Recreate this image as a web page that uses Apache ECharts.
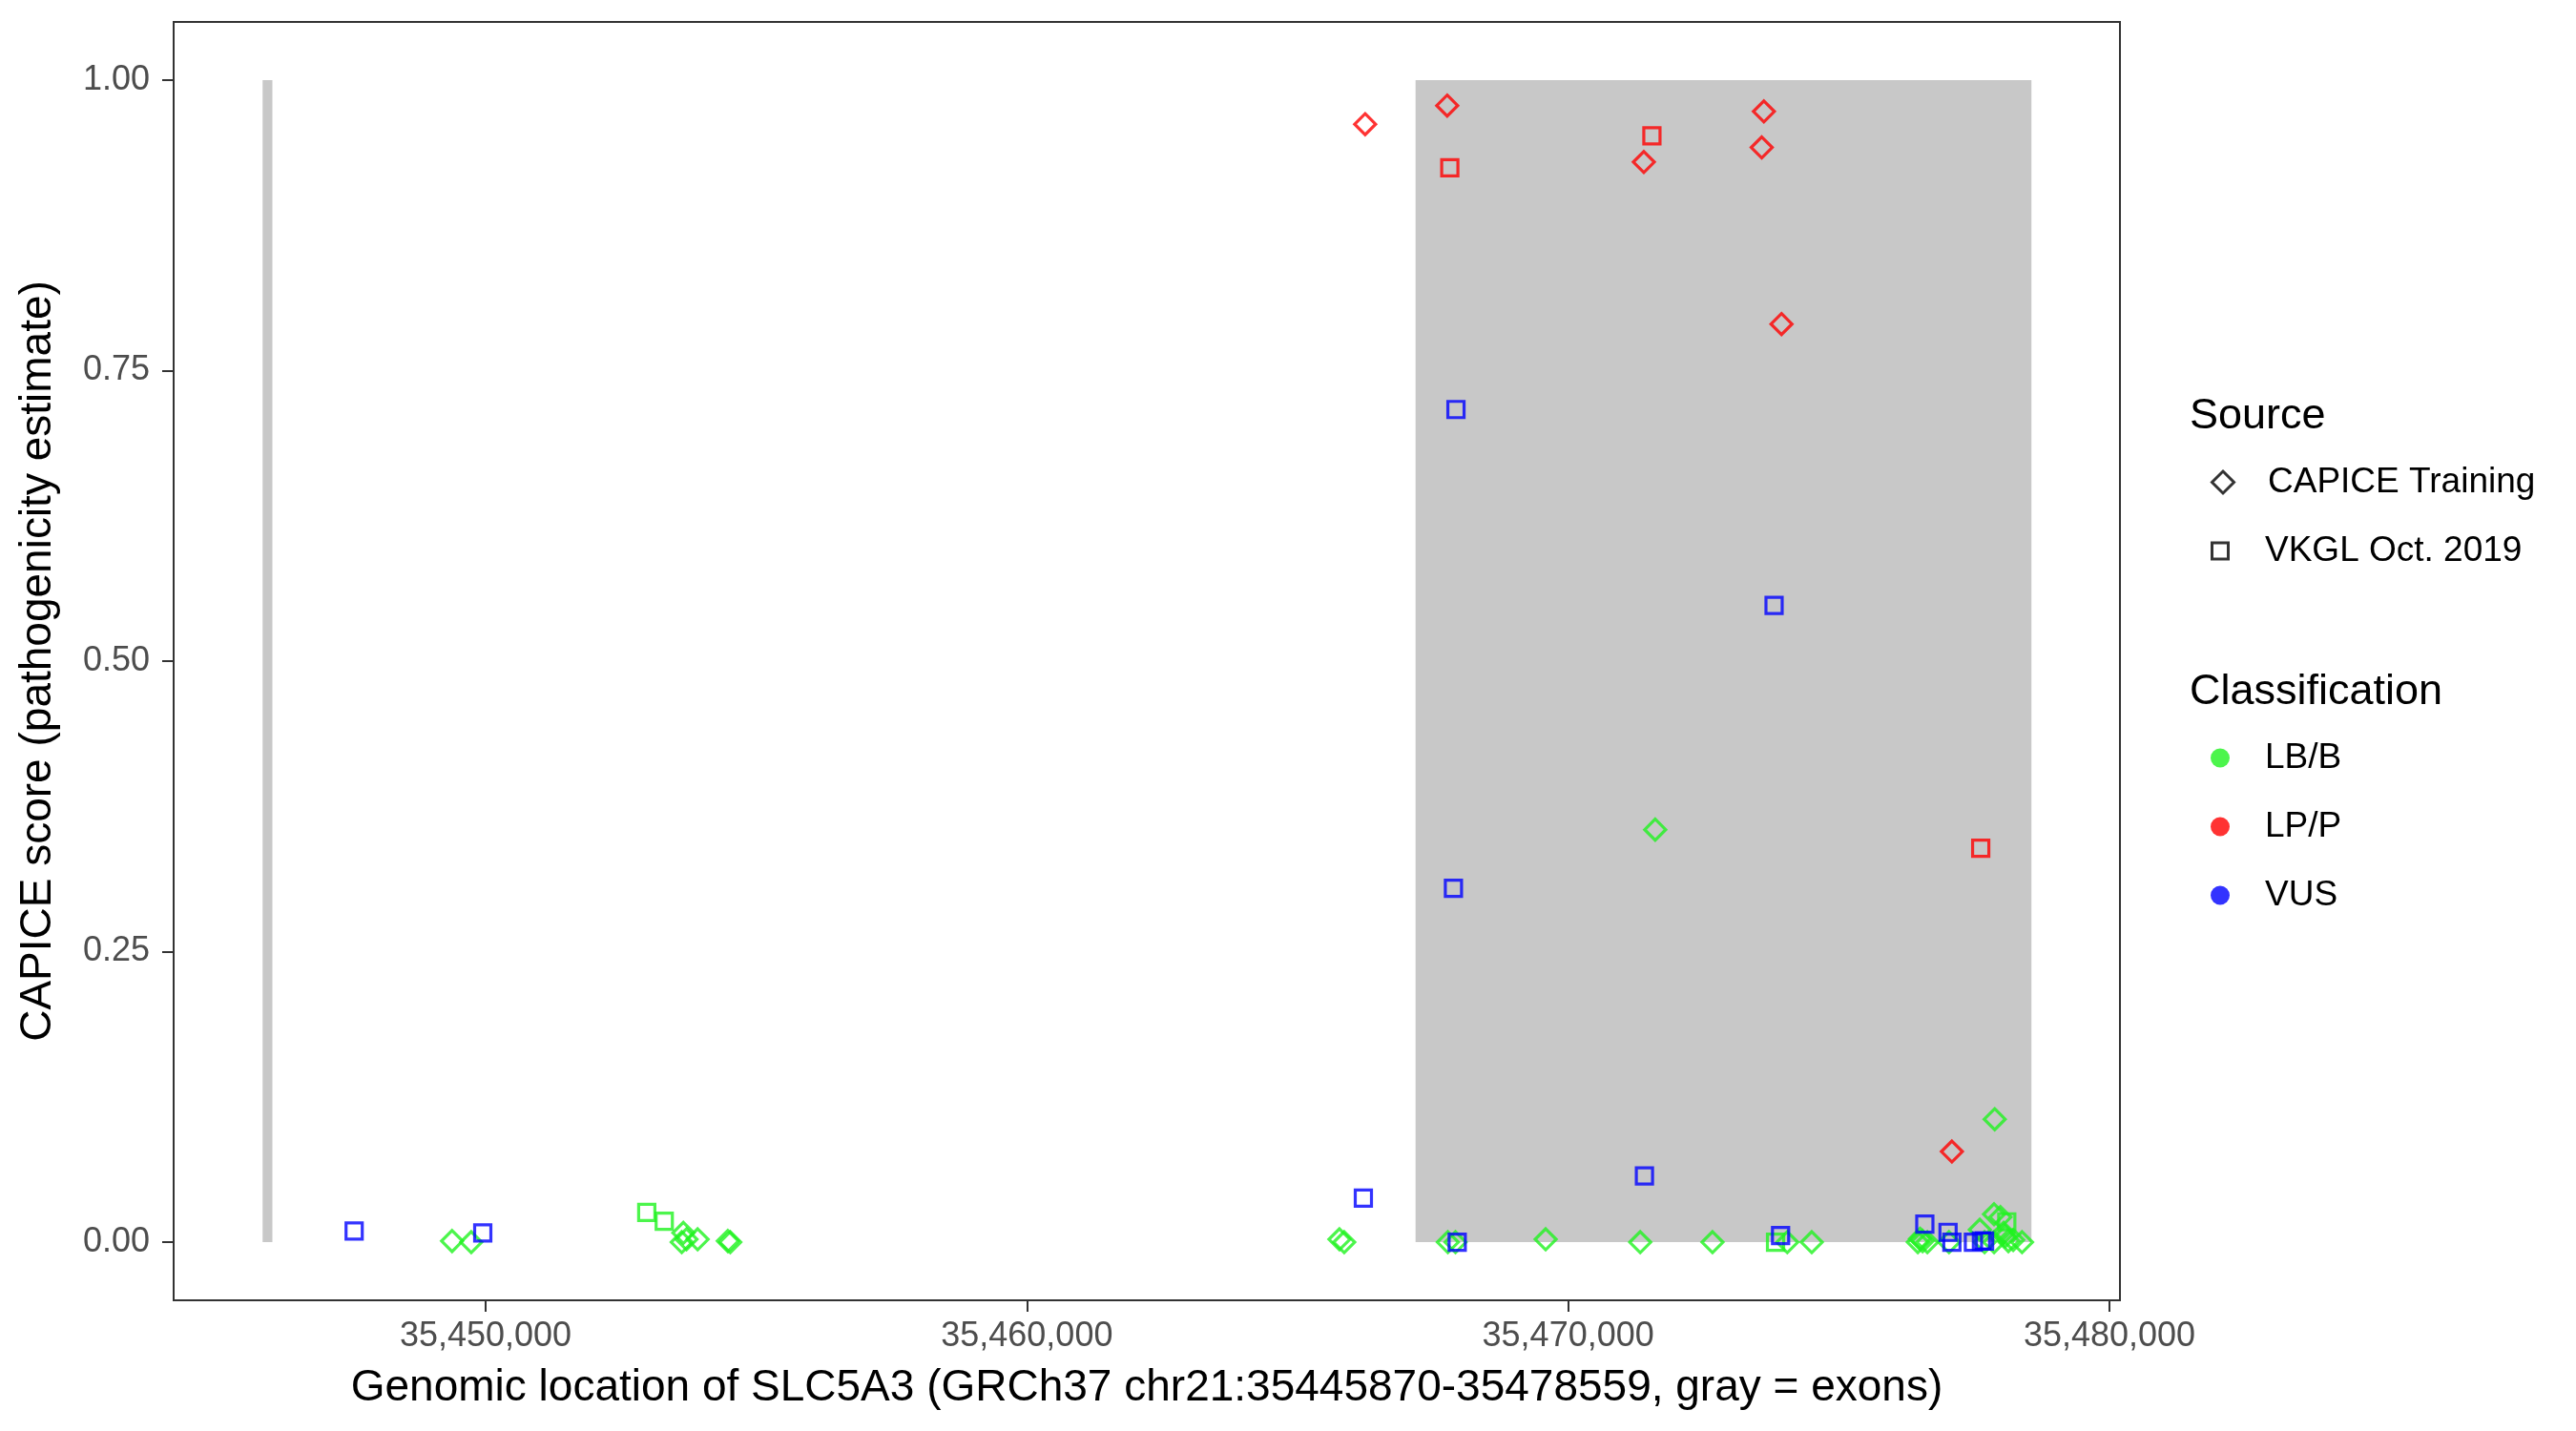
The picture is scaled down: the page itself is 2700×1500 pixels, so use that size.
<!DOCTYPE html>
<html>
<head>
<meta charset="utf-8">
<script src="https://cdn.jsdelivr.net/npm/echarts@6/dist/echarts.min.js"></script>
<style>
html,body{margin:0;padding:0;background:#fff;}
#chart{width:2700px;height:1500px;}
</style>
</head>
<body>
<div id="chart"></div>
<script>
// ---- data ----
const exonStart = [35445880, 35467180];
const exonEnd   = [35446060, 35478559];

const xTicks = [35450000, 35460000, 35470000, 35480000];
const yTicks = [0, 0.25, 0.5, 0.75, 1];

// CAPICE Training (diamonds)
const capiceBenign = [
  [35449380, 0.001], [35449734, 0.000], [35453653, 0.008], [35453711, 0.0025],
  [35453623, 0.000], [35453917, 0.0025], [35454475, 0.001], [35454520, 0.000],
  [35465774, 0.0025], [35465862, 0.000], [35467777, 0.000], [35467918, 0.000],
  [35469584, 0.0025], [35471331, 0.000], [35471608, 0.355], [35472666, 0.000],
  [35474048, 0.000], [35474500, 0.000], [35476460, 0.000], [35476500, 0.003],
  [35476548, 0.001], [35476636, 0.000], [35477036, 0.000], [35477605, 0.0107],
  [35477693, 0.000], [35477868, 0.024], [35477869, 0.000], [35477880, 0.1058],
  [35477986, 0.0216], [35478045, 0.008], [35478074, 0.005], [35478133, 0.001],
  [35478221, 0.002], [35478385, 0.000]
];
const capicePathogenic = [
  [35466249, 0.962], [35467765, 0.978], [35471398, 0.9295], [35473576, 0.942],
  [35473616, 0.973], [35473941, 0.790], [35477089, 0.078]
];
// VKGL Oct. 2019 (squares)
const vkglBenign = [
  [35452977, 0.0257], [35453300, 0.018], [35473831, 0.000], [35478103, 0.0175]
];
const vkglPathogenic = [
  [35467813, 0.9245], [35471547, 0.952], [35477622, 0.339]
];
const vkglVUS = [
  [35447571, 0.0096], [35449947, 0.008], [35466216, 0.038], [35467880, 0.3046],
  [35467927, 0.7165], [35467950, 0.000], [35471409, 0.057], [35473804, 0.548],
  [35473924, 0.0057], [35476589, 0.0156], [35477018, 0.0085], [35477089, 0.000],
  [35477487, 0.000], [35477635, 0.001], [35477693, 0.001]
];

const sourceNames = ['CAPICE Training', 'VKGL Oct. 2019'];
const classNames = ['LB/B', 'LP/P', 'VUS'];

// ---- styling ----
const FONT = 'Liberation Sans, Arial, Helvetica, sans-serif';
const GREEN = '#1FF21F', RED = '#FF0000', BLUE = '#0000FF';
const classColor = {'LB/B': GREEN, 'LP/P': RED, 'VUS': BLUE};
const DIAMOND_PATH = 'path://M1,0L2,1L1,2L0,1Z';
const SQUARE_PATH = 'path://M0,0L1,0L1,1L0,1Z';

const exonData = exonStart.map((s, i) => [s, exonEnd[i]]);

function pts(name, data, symbol, size, color) {
  return {
    type: 'scatter', name: name, data: data, symbol: symbol, symbolSize: size,
    itemStyle: {color: 'rgba(0,0,0,0)', borderColor: color, borderWidth: 3.2},
    emphasis: {disabled: true}, silent: true, z: 3, animation: false
  };
}

const series = [
  {
    type: 'custom', name: 'exons', data: exonData, z: 1, silent: true, animation: false,
    encode: {x: [0, 1]},
    renderItem: function (params, api) {
      const p0 = api.coord([api.value(0), 1]);
      const p1 = api.coord([api.value(1), 0]);
      return {type: 'rect', shape: {x: p0[0], y: p0[1], width: p1[0] - p0[0], height: p1[1] - p0[1]},
              style: {fill: '#C8C8C8'}};
    }
  },
  pts('CAPICE Training LB/B', capiceBenign, 'diamond', 22, GREEN),
  pts('CAPICE Training LP/P', capicePathogenic, 'diamond', 22, RED),
  pts('VKGL Oct. 2019 LB/B', vkglBenign, 'rect', 17, GREEN),
  pts('VKGL Oct. 2019 LP/P', vkglPathogenic, 'rect', 17, RED),
  pts('VKGL Oct. 2019 VUS', vkglVUS, 'rect', 17, BLUE),
  // legend-only series
  {type: 'scatter', name: sourceNames[0], data: [], symbol: DIAMOND_PATH,
   itemStyle: {color: 'rgba(0,0,0,0)', borderColor: '#000', borderWidth: 3}},
  {type: 'scatter', name: sourceNames[1], data: [], symbol: SQUARE_PATH,
   itemStyle: {color: 'rgba(0,0,0,0)', borderColor: '#000', borderWidth: 3}}
].concat(classNames.map(c => ({type: 'scatter', name: c, data: [], symbol: 'circle',
   itemStyle: {color: classColor[c]}})));

function leg(name, icon, h, top, bw) {
  const l = {
    data: [{name: name, icon: icon}], orient: 'vertical', left: 2317, top: top,
    padding: 0, itemWidth: 84, itemHeight: h, symbolKeepAspect: true, selectedMode: false,
    textStyle: {fontSize: 37, color: '#000', fontFamily: FONT}
  };
  if (bw) l.itemStyle = {borderWidth: bw};
  return l;
}

const option = {
  backgroundColor: '#fff',
  animation: false,
  textStyle: {fontFamily: FONT},
  grid: {left: 182, right: 478, top: 23, bottom: 137, show: true, borderColor: '#333', borderWidth: 2, backgroundColor: 'transparent'},
  xAxis: {
    type: 'value', min: 35444236, max: 35480194,
    name: 'Genomic location of SLC5A3 (GRCh37 chr21:35445870-35478559, gray = exons)',
    nameLocation: 'middle', nameGap: 69,
    nameTextStyle: {fontSize: 46, color: '#000', fontFamily: FONT},
    axisLine: {show: true, onZero: false, lineStyle: {color: '#333', width: 2}},
    axisTick: {show: true, length: 12, lineStyle: {color: '#333', width: 2}, customValues: xTicks},
    axisLabel: {fontSize: 36, color: '#4D4D4D', margin: 20, fontFamily: FONT, customValues: xTicks,
                formatter: v => Number(v).toLocaleString('en-US')},
    splitLine: {show: false}
  },
  yAxis: {
    type: 'value', min: -0.05, max: 1.05,
    name: 'CAPICE score (pathogenicity estimate)',
    nameLocation: 'middle', nameGap: 119,
    nameTextStyle: {fontSize: 46, color: '#000', fontFamily: FONT},
    axisLine: {show: true, onZero: false, lineStyle: {color: '#333', width: 2}},
    axisTick: {show: true, length: 12, lineStyle: {color: '#333', width: 2}, customValues: yTicks},
    axisLabel: {fontSize: 36, color: '#4D4D4D', margin: 25, fontFamily: FONT, customValues: yTicks,
                formatter: v => Number(v).toFixed(2)},
    splitLine: {show: false}
  },
  legend: [
    leg(sourceNames[0], DIAMOND_PATH, 23, 487, 3),
    leg(sourceNames[1], SQUARE_PATH, 17, 559, 3),
    leg(classNames[0], 'circle', 20, 776),
    leg(classNames[1], 'circle', 20, 848),
    leg(classNames[2], 'circle', 20, 920)
  ],
  graphic: [
    {type: 'text', left: 2295, top: 414, style: {text: 'Source', font: '45px ' + FONT, fill: '#000'}},
    {type: 'text', left: 2295, top: 703, style: {text: 'Classification', font: '45px ' + FONT, fill: '#000'}}
  ],
  series: series
};

const chart = echarts.init(document.getElementById('chart'), null, {renderer: 'canvas', width: 2700, height: 1500});
chart.setOption(option);
</script>
</body>
</html>
